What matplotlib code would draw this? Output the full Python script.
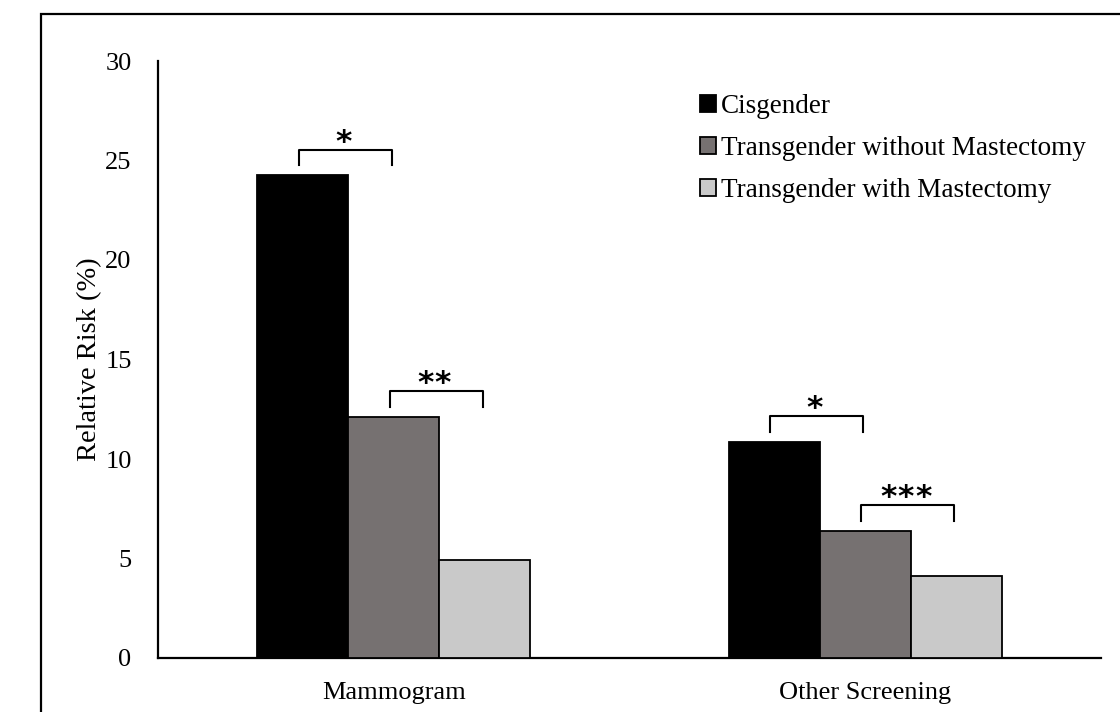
import matplotlib
matplotlib.use("Agg")
import matplotlib.pyplot as plt
from matplotlib.patches import Rectangle
import numpy as np

categories = ["Mammogram", "Other Screening"]
series_names = ["Cisgender", "Transgender without Mastectomy", "Transgender with Mastectomy"]
cisgender = [24.25, 10.85]
trans_without = [12.1, 6.4]
trans_with = [4.9, 4.1]
y_ticks = [0, 5, 10, 15, 20, 25, 30]
# significance brackets: (category index, series i, series j, label)
brackets = [(0, 0, 1, "*"), (0, 1, 2, "**"), (1, 0, 1, "*"), (1, 1, 2, "***")]

colors = ["#000000", "#767171", "#C9C9C9"]
series_vals = [cisgender, trans_without, trans_with]

plt.rcParams['font.family'] = ['Liberation Serif', 'DejaVu Serif']

W, H = 1120, 712
fig = plt.figure(figsize=(W / 100, H / 100), dpi=100)
ax = fig.add_axes([158 / W, 1 - 658 / H, (1101 - 158) / W, (658 - 61) / H])

x = np.arange(len(categories))
bw = 0.193
offsets = [-bw, 0, bw]
for vals, off, col, name in zip(series_vals, offsets, colors, series_names):
    ax.bar(x + off, vals, width=bw, color=col, edgecolor="black", linewidth=1.3,
           label=name, zorder=3)

ax.set_xlim(-0.5, 1.5)
ax.set_ylim(0, 30)
ax.set_yticks(y_ticks)
ax.set_xticks(x)
ax.set_xticklabels(categories)
ax.tick_params(axis="both", length=0, labelsize=19)
ax.tick_params(axis="y", pad=19)
ax.tick_params(axis="x", pad=17)
for s in ["top", "right"]:
    ax.spines[s].set_visible(False)
for s in ["left", "bottom"]:
    ax.spines[s].set_linewidth(1.6)
ax.set_ylabel("Relative Risk (%)", fontsize=20.5, labelpad=2)

# brackets
gap = 1.3
leg = 0.8
star_step = 12.6  # points between asterisk centres
for ci, i, j, lab in brackets:
    x1 = x[ci] + offsets[i] - 0.008
    x2 = x[ci] + offsets[j] - 0.004
    top = max(series_vals[i][ci], series_vals[j][ci]) + gap
    ax.plot([x1, x1, x2, x2], [top - leg, top, top, top - leg], color="black",
            linewidth=1.5, solid_joinstyle="round", zorder=4)
    n = len(lab)
    for k in range(n):
        dx = (k - (n - 1) / 2) * star_step
        ax.annotate("*", xy=((x1 + x2) / 2 - 0.005, top - 0.35), xytext=(dx, 0),
                    textcoords="offset points", ha="center", va="bottom",
                    fontsize=22.5, family="DejaVu Sans", fontweight="bold")

leg_obj = ax.legend(loc="upper left", bbox_to_anchor=(700 / W, 1 - 94 / H),
                    bbox_transform=fig.transFigure, frameon=False, fontsize=19.5,
                    handlelength=0.58, handleheight=0.58, handletextpad=0.2,
                    labelspacing=0.63, borderpad=0, borderaxespad=0)

# outer frame
fig.patches.append(Rectangle((41 / W, -0.1), 1.2, 0.1 + 1 - 14 / H,
                             transform=fig.transFigure, fill=False,
                             edgecolor="black", linewidth=1.6))

fig.savefig("out.png", dpi=100)
